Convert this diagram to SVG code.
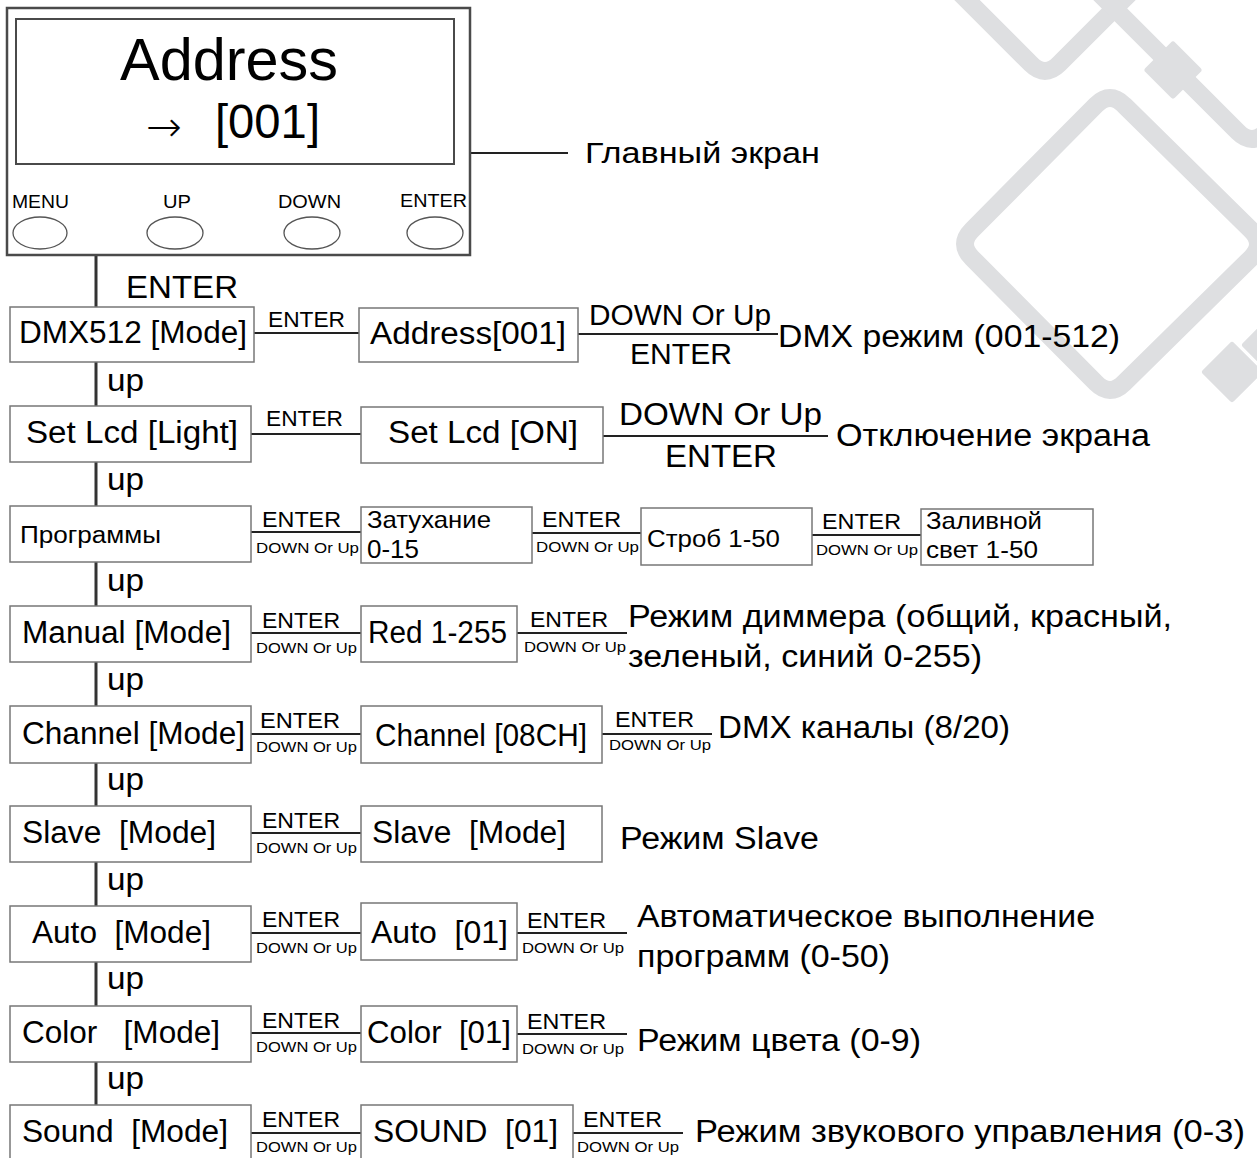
<svg xmlns="http://www.w3.org/2000/svg" width="1257" height="1158" viewBox="0 0 1257 1158">
<style>
text{font-family:"Liberation Sans",Arial,sans-serif;fill:#000}
.box{fill:#fff;stroke:#777;stroke-width:1.5}
.panel{fill:#fff;stroke:#4a4a4a;stroke-width:2.5}
.scr{fill:none;stroke:#4a4a4a;stroke-width:2}
.btn{fill:none;stroke:#555;stroke-width:1.3}
.ln{stroke:#222;stroke-width:2;fill:none}
.vl{stroke:#333;stroke-width:3;fill:none}
.wm{fill:none;stroke:#dedfe1;stroke-width:18;stroke-linejoin:round}
.wmf{fill:#dedfe1;stroke:#dedfe1;stroke-width:6;stroke-linejoin:round}
.m{font-size:31px}
.e{font-size:22px}
.d{font-size:15px}
.p{font-size:24px}
</style>
<g id="watermark">
<path class="wm" d="M1124,105 L1251,230 Q1265,244 1251,258 L1124,383 Q1110,397 1096,383 L972,258 Q958,244 972,230 L1096,105 Q1110,91 1124,105 Z"/>
<path class="wm" d="M940,-27 L1031,64 Q1045,78 1059,64 L1150,-27"/>
<path class="wm" d="M1095,-11 L1238,132 Q1252,146 1266,132 L1300,98"/>
<rect class="wmf" x="-18" y="-18" width="36" height="36" transform="translate(1173,70) rotate(45)"/>
<polygon class="wmf" points="1205,372 1232,345 1259,372 1232,399"/>
<polygon class="wmf" points="1245,345 1270,320 1295,345 1270,370"/>
</g>
<g id="connectors">
<line class="ln" x1="470" y1="153" x2="568" y2="153"/>
<line class="vl" x1="96" y1="254" x2="96" y2="307"/>
<line class="vl" x1="96" y1="362" x2="96" y2="406"/>
<line class="vl" x1="96" y1="462" x2="96" y2="506"/>
<line class="vl" x1="96" y1="562" x2="96" y2="606"/>
<line class="vl" x1="96" y1="662" x2="96" y2="706"/>
<line class="vl" x1="96" y1="763" x2="96" y2="806"/>
<line class="vl" x1="96" y1="862" x2="96" y2="906"/>
<line class="vl" x1="96" y1="962" x2="96" y2="1006"/>
<line class="vl" x1="96" y1="1062" x2="96" y2="1105"/>
<line class="ln" x1="254" y1="333" x2="359" y2="333"/>
<line class="ln" x1="578" y1="334" x2="778" y2="334"/>
<line class="ln" x1="251" y1="434" x2="361" y2="434"/>
<line class="ln" x1="603" y1="436" x2="828" y2="436"/>
<line class="ln" x1="251" y1="532" x2="361" y2="532"/>
<line class="ln" x1="532" y1="533" x2="641" y2="533"/>
<line class="ln" x1="812" y1="535" x2="921" y2="535"/>
<line class="ln" x1="251" y1="633" x2="361" y2="633"/>
<line class="ln" x1="517" y1="633" x2="627" y2="633"/>
<line class="ln" x1="251" y1="734" x2="361" y2="734"/>
<line class="ln" x1="602" y1="734" x2="712" y2="734"/>
<line class="ln" x1="251" y1="833" x2="361" y2="833"/>
<line class="ln" x1="251" y1="933" x2="361" y2="933"/>
<line class="ln" x1="517" y1="933" x2="627" y2="933"/>
<line class="ln" x1="251" y1="1033" x2="361" y2="1033"/>
<line class="ln" x1="517" y1="1034" x2="627" y2="1034"/>
<line class="ln" x1="251" y1="1133" x2="361" y2="1133"/>
<line class="ln" x1="573" y1="1133" x2="683" y2="1133"/>
</g>
<g id="connector-labels">
<text x="126" y="298" style="font-size:32px" textLength="112" lengthAdjust="spacingAndGlyphs">ENTER</text>
<text x="268" y="327" class="e" textLength="77" lengthAdjust="spacingAndGlyphs">ENTER</text>
<text x="589" y="325" style="font-size:29px" textLength="182" lengthAdjust="spacingAndGlyphs">DOWN Or Up</text>
<text x="630" y="364" style="font-size:29px" textLength="102" lengthAdjust="spacingAndGlyphs">ENTER</text>
<text x="266" y="426" class="e" textLength="77" lengthAdjust="spacingAndGlyphs">ENTER</text>
<text x="619" y="425" class="m" textLength="203" lengthAdjust="spacingAndGlyphs">DOWN Or Up</text>
<text x="665" y="467" class="m" textLength="112" lengthAdjust="spacingAndGlyphs">ENTER</text>
<text x="262" y="527" class="e" textLength="79" lengthAdjust="spacingAndGlyphs">ENTER</text>
<text x="256" y="553" class="d" textLength="103" lengthAdjust="spacingAndGlyphs">DOWN Or Up</text>
<text x="542" y="527" class="e" textLength="79" lengthAdjust="spacingAndGlyphs">ENTER</text>
<text x="536" y="552" class="d" textLength="103" lengthAdjust="spacingAndGlyphs">DOWN Or Up</text>
<text x="822" y="529" class="e" textLength="79" lengthAdjust="spacingAndGlyphs">ENTER</text>
<text x="816" y="555" class="d" textLength="102" lengthAdjust="spacingAndGlyphs">DOWN Or Up</text>
<text x="262" y="628" class="e" textLength="78" lengthAdjust="spacingAndGlyphs">ENTER</text>
<text x="256" y="653" class="d" textLength="101" lengthAdjust="spacingAndGlyphs">DOWN Or Up</text>
<text x="530" y="627" class="e" textLength="78" lengthAdjust="spacingAndGlyphs">ENTER</text>
<text x="524" y="652" class="d" textLength="102" lengthAdjust="spacingAndGlyphs">DOWN Or Up</text>
<text x="260" y="728" class="e" textLength="80" lengthAdjust="spacingAndGlyphs">ENTER</text>
<text x="256" y="752" class="d" textLength="101" lengthAdjust="spacingAndGlyphs">DOWN Or Up</text>
<text x="615" y="727" class="e" textLength="79" lengthAdjust="spacingAndGlyphs">ENTER</text>
<text x="609" y="750" class="d" textLength="102" lengthAdjust="spacingAndGlyphs">DOWN Or Up</text>
<text x="262" y="828" class="e" textLength="78" lengthAdjust="spacingAndGlyphs">ENTER</text>
<text x="256" y="853" class="d" textLength="101" lengthAdjust="spacingAndGlyphs">DOWN Or Up</text>
<text x="262" y="927" class="e" textLength="78" lengthAdjust="spacingAndGlyphs">ENTER</text>
<text x="256" y="953" class="d" textLength="101" lengthAdjust="spacingAndGlyphs">DOWN Or Up</text>
<text x="527" y="928" class="e" textLength="79" lengthAdjust="spacingAndGlyphs">ENTER</text>
<text x="522" y="953" class="d" textLength="102" lengthAdjust="spacingAndGlyphs">DOWN Or Up</text>
<text x="262" y="1028" class="e" textLength="78" lengthAdjust="spacingAndGlyphs">ENTER</text>
<text x="256" y="1052" class="d" textLength="101" lengthAdjust="spacingAndGlyphs">DOWN Or Up</text>
<text x="527" y="1029" class="e" textLength="79" lengthAdjust="spacingAndGlyphs">ENTER</text>
<text x="522" y="1054" class="d" textLength="102" lengthAdjust="spacingAndGlyphs">DOWN Or Up</text>
<text x="262" y="1127" class="e" textLength="78" lengthAdjust="spacingAndGlyphs">ENTER</text>
<text x="256" y="1152" class="d" textLength="101" lengthAdjust="spacingAndGlyphs">DOWN Or Up</text>
<text x="583" y="1127" class="e" textLength="79" lengthAdjust="spacingAndGlyphs">ENTER</text>
<text x="577" y="1152" class="d" textLength="102" lengthAdjust="spacingAndGlyphs">DOWN Or Up</text>
<text x="107" y="391" class="m" textLength="37" lengthAdjust="spacingAndGlyphs">up</text>
<text x="107" y="490" class="m" textLength="37" lengthAdjust="spacingAndGlyphs">up</text>
<text x="107" y="591" class="m" textLength="37" lengthAdjust="spacingAndGlyphs">up</text>
<text x="107" y="690" class="m" textLength="37" lengthAdjust="spacingAndGlyphs">up</text>
<text x="107" y="790" class="m" textLength="37" lengthAdjust="spacingAndGlyphs">up</text>
<text x="107" y="890" class="m" textLength="37" lengthAdjust="spacingAndGlyphs">up</text>
<text x="107" y="989" class="m" textLength="37" lengthAdjust="spacingAndGlyphs">up</text>
<text x="107" y="1089" class="m" textLength="37" lengthAdjust="spacingAndGlyphs">up</text>
</g>
<g id="main-screen">
<rect class="panel" x="7" y="8" width="463" height="247"/>
<rect class="scr" x="16" y="19" width="438" height="145"/>
<text x="120" y="80" style="font-size:60px" textLength="218" lengthAdjust="spacingAndGlyphs">Address</text>
<text x="146" y="141" style="font-family:'DejaVu Sans',sans-serif;font-size:42px;font-weight:200" textLength="36" lengthAdjust="spacingAndGlyphs">→</text>
<text x="215" y="138" style="font-size:48px" textLength="105" lengthAdjust="spacingAndGlyphs">[001]</text>
<text x="12" y="208" style="font-size:19px" textLength="57" lengthAdjust="spacingAndGlyphs">MENU</text>
<text x="163" y="208" style="font-size:19px" textLength="28" lengthAdjust="spacingAndGlyphs">UP</text>
<text x="278" y="208" style="font-size:19px" textLength="63" lengthAdjust="spacingAndGlyphs">DOWN</text>
<text x="400" y="207" style="font-size:19px" textLength="67" lengthAdjust="spacingAndGlyphs">ENTER</text>
<ellipse class="btn" cx="40" cy="233" rx="27" ry="16"/>
<ellipse class="btn" cx="175" cy="233" rx="28" ry="16"/>
<ellipse class="btn" cx="312" cy="233" rx="28" ry="16"/>
<ellipse class="btn" cx="435" cy="233" rx="28" ry="16"/>
</g>
<g id="main-screen-label"><text x="585" y="163" style="font-size:30px" textLength="235" lengthAdjust="spacingAndGlyphs">Главный экран</text></g>
<g id="dmx-mode"><rect class="box" x="10" y="307" width="244" height="55"/><text x="19" y="343" class="m" textLength="228" lengthAdjust="spacingAndGlyphs">DMX512 [Mode]</text></g>
<g id="dmx-address"><rect class="box" x="359" y="308" width="219" height="54"/><text x="370" y="344" class="m" textLength="196" lengthAdjust="spacingAndGlyphs">Address[001]</text></g>
<g id="dmx-note"><text x="778" y="347" class="m" textLength="342" lengthAdjust="spacingAndGlyphs">DMX режим (001-512)</text></g>
<g id="lcd-mode"><rect class="box" x="10" y="406" width="241" height="56"/><text x="26" y="443" class="m" textLength="212" lengthAdjust="spacingAndGlyphs">Set Lcd [Light]</text></g>
<g id="lcd-on"><rect class="box" x="361" y="407" width="242" height="56"/><text x="388" y="443" class="m" textLength="190" lengthAdjust="spacingAndGlyphs">Set Lcd [ON]</text></g>
<g id="lcd-note"><text x="836" y="446" class="m" textLength="314" lengthAdjust="spacingAndGlyphs">Отключение экрана</text></g>
<g id="programs"><rect class="box" x="10" y="506" width="241" height="56"/><text x="20" y="543" style="font-size:23px" textLength="141" lengthAdjust="spacingAndGlyphs">Программы</text></g>
<g id="fade"><rect class="box" x="361" y="507" width="171" height="56"/><text x="367" y="528" class="p" textLength="124" lengthAdjust="spacingAndGlyphs">Затухание</text><text x="367" y="558" style="font-size:25px" textLength="52" lengthAdjust="spacingAndGlyphs">0-15</text></g>
<g id="strobe"><rect class="box" x="641" y="508" width="171" height="57"/><text x="647" y="547" class="p" textLength="133" lengthAdjust="spacingAndGlyphs">Строб 1-50</text></g>
<g id="flood"><rect class="box" x="921" y="509" width="172" height="56"/><text x="926" y="529" class="p" textLength="116" lengthAdjust="spacingAndGlyphs">Заливной</text><text x="926" y="558" class="p" textLength="112" lengthAdjust="spacingAndGlyphs">свет 1-50</text></g>
<g id="manual-mode"><rect class="box" x="10" y="606" width="241" height="56"/><text x="22" y="643" class="m" textLength="209" lengthAdjust="spacingAndGlyphs">Manual [Mode]</text></g>
<g id="red"><rect class="box" x="361" y="606" width="156" height="56"/><text x="368" y="643" class="m" textLength="139" lengthAdjust="spacingAndGlyphs">Red 1-255</text></g>
<g id="manual-note"><text x="628" y="627" class="m" textLength="544" lengthAdjust="spacingAndGlyphs">Режим диммера (общий, красный,</text><text x="628" y="667" class="m" textLength="354" lengthAdjust="spacingAndGlyphs">зеленый, синий 0-255)</text></g>
<g id="channel-mode"><rect class="box" x="10" y="706" width="241" height="57"/><text x="22" y="744" class="m" textLength="223" lengthAdjust="spacingAndGlyphs">Channel [Mode]</text></g>
<g id="channel-08"><rect class="box" x="361" y="706" width="241" height="57"/><text x="375" y="746" class="m" textLength="212" lengthAdjust="spacingAndGlyphs">Channel [08CH]</text></g>
<g id="channel-note"><text x="718" y="738" class="m" textLength="292" lengthAdjust="spacingAndGlyphs">DMX каналы (8/20)</text></g>
<g id="slave-mode"><rect class="box" x="10" y="806" width="241" height="56"/><text x="22" y="843" class="m" xml:space="preserve" textLength="194" lengthAdjust="spacingAndGlyphs">Slave  [Mode]</text></g>
<g id="slave-mode-2"><rect class="box" x="361" y="806" width="241" height="56"/><text x="372" y="843" class="m" xml:space="preserve" textLength="194" lengthAdjust="spacingAndGlyphs">Slave  [Mode]</text></g>
<g id="slave-note"><text x="620" y="849" class="m" textLength="199" lengthAdjust="spacingAndGlyphs">Режим Slave</text></g>
<g id="auto-mode"><rect class="box" x="10" y="906" width="241" height="56"/><text x="32" y="943" class="m" xml:space="preserve" textLength="179" lengthAdjust="spacingAndGlyphs">Auto  [Mode]</text></g>
<g id="auto-01"><rect class="box" x="361" y="903" width="156" height="57"/><text x="371" y="943" class="m" xml:space="preserve" textLength="137" lengthAdjust="spacingAndGlyphs">Auto  [01]</text></g>
<g id="auto-note"><text x="637" y="927" class="m" textLength="458" lengthAdjust="spacingAndGlyphs">Автоматическое выполнение</text><text x="637" y="967" class="m" textLength="253" lengthAdjust="spacingAndGlyphs">программ (0-50)</text></g>
<g id="color-mode"><rect class="box" x="10" y="1006" width="241" height="56"/><text x="22" y="1043" class="m" xml:space="preserve" textLength="198" lengthAdjust="spacingAndGlyphs">Color   [Mode]</text></g>
<g id="color-01"><rect class="box" x="361" y="1006" width="156" height="56"/><text x="367" y="1043" class="m" xml:space="preserve" textLength="144" lengthAdjust="spacingAndGlyphs">Color  [01]</text></g>
<g id="color-note"><text x="637" y="1051" class="m" textLength="284" lengthAdjust="spacingAndGlyphs">Режим цвета (0-9)</text></g>
<g id="sound-mode"><rect class="box" x="10" y="1105" width="241" height="56"/><text x="22" y="1142" class="m" xml:space="preserve" textLength="206" lengthAdjust="spacingAndGlyphs">Sound  [Mode]</text></g>
<g id="sound-01"><rect class="box" x="361" y="1105" width="212" height="56"/><text x="373" y="1142" class="m" xml:space="preserve" textLength="185" lengthAdjust="spacingAndGlyphs">SOUND  [01]</text></g>
<g id="sound-note"><text x="695" y="1142" class="m" textLength="550" lengthAdjust="spacingAndGlyphs">Режим звукового управления (0-3)</text></g>
</svg>
